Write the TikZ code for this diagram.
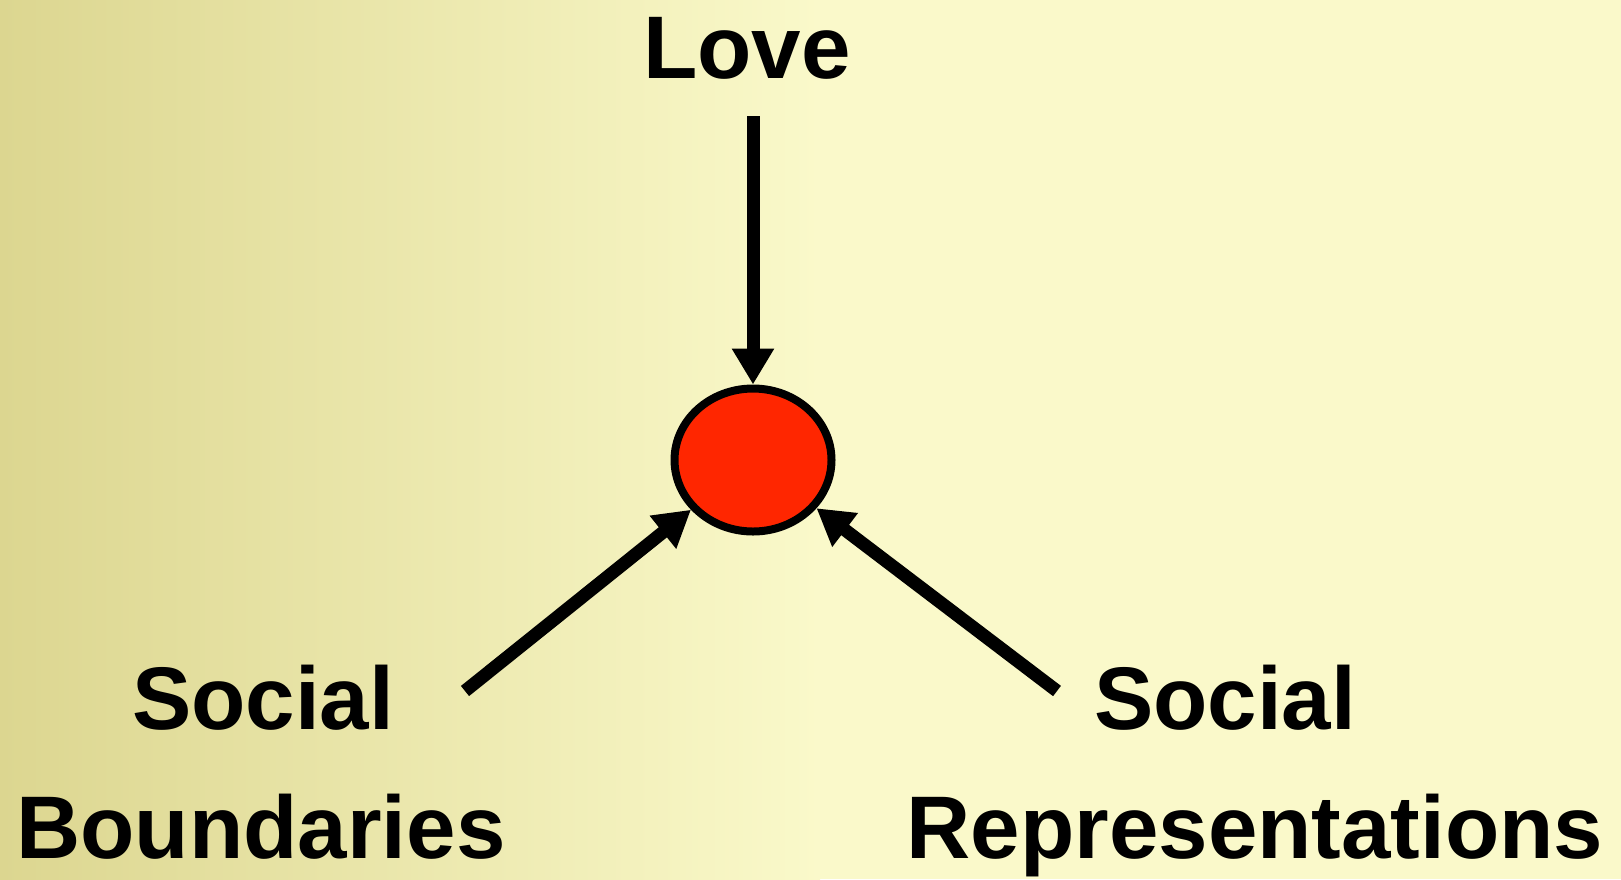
\documentclass[tikz,border=0pt]{standalone}
\usepackage{fontspec}
\setmainfont{Liberation Sans}
\usepackage{tikz}
\usetikzlibrary{arrows.meta,positioning,shapes.geometric}
\definecolor{bgPale}{HTML}{FAF9CA}
\definecolor{bgDark}{HTML}{DCD690}
\definecolor{hubRed}{HTML}{FF2600}

\begin{document}
\begin{tikzpicture}[x=0.1mm,y=-0.1mm,lbl/.style={font=\bfseries\fontsize{25.3}{30}\selectfont,anchor=base,inner sep=0pt},arr/.style={-{Triangle[width=4mm,length=3.6mm]},line width=1.3mm}]
    \useasboundingbox (0,0) rectangle (1621,879);
    \fill[bgPale] (0,0) rectangle (1621,879);
    \shade[left color=bgDark,right color=bgPale] (0,0) rectangle (820,879);
    \node[ellipse,draw,line width=0.8mm,fill=hubRed,minimum width=15.7mm,minimum height=14.3mm,inner sep=0pt] (hub) at (753,460) {};
    \node[lbl] (love) at (747,78) {Love};
    \node[lbl] (sbTop) at (263,729) {Social};
    \node[lbl] (sbBot) at (261,858) {Boundaries};
    \node[lbl] (srTop) at (1225,729) {Social};
    \node[lbl] (srBot) at (1255,858) {Representations};
    \coordinate (loveEnd) at (753,116);
    \coordinate (sbEnd) at (465,691);
    \coordinate (srEnd) at (1057,691);
    \draw[arr] (loveEnd)--(hub);
    \draw[arr] (sbEnd)--(hub);
    \draw[arr] (srEnd)--(hub);
  \end{tikzpicture}
\end{document}
